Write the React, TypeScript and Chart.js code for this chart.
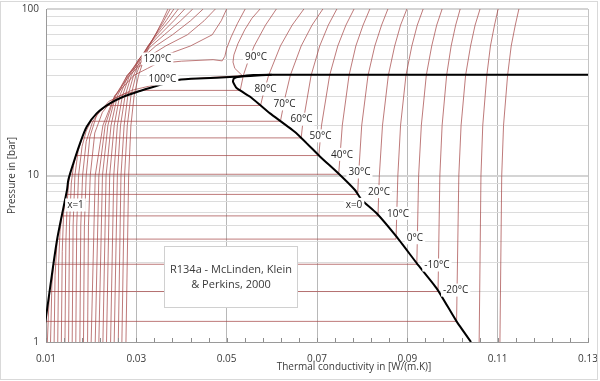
import React, { useEffect, useRef } from 'react';
import { Chart, registerables } from 'chart.js';

Chart.register(...registerables);

type Pt = [number, number];

// ---- saturation curves (thermal conductivity W/(m.K), pressure bar) ----
const satVapor: Pt[] = [
  [0.0097, 1.25], [0.0100, 1.41], [0.01244, 4.10], [0.01465, 8.18], [0.01494, 9.40], [0.01604, 11.8],
  [0.01753, 15.6], [0.01901, 19.6], [0.02122, 23.6], [0.02417, 27.1], [0.02711, 29.7], [0.03081, 32.2],
  [0.03369, 34.0], [0.0392, 37.5], [0.0450, 38.4], [0.0507, 39.0], [0.0552, 39.6], [0.0600, 40.3],
];
const satLiquid: Pt[] = [
  [0.1041, 1.0], [0.1009, 1.33], [0.0965, 2.10], [0.0921, 2.97], [0.0876, 4.29], [0.0832, 5.93],
  [0.0799, 7.13], [0.0784, 8.18], [0.0747, 10.31], [0.0707, 12.97], [0.0655, 17.9], [0.0596, 23.6],
  [0.0574, 26.5], [0.0552, 29.7], [0.0522, 33.5], [0.0514, 36.6], [0.0516, 38.3], [0.0530, 39.3],
  [0.0560, 40.1], [0.0600, 40.3],
];
const criticalLine: Pt[] = [[0.0600, 40.3], [0.1300, 40.3]];

// ---- isotherms ----
const isoM40: Pt[] = [[0.1105, 1], [0.1109, 10], [0.1113, 20], [0.1122, 40], [0.1130, 60], [0.1139, 80], [0.1147, 100]];
const isoM30: Pt[] = [[0.1059, 1], [0.1063, 10], [0.1067, 20], [0.1076, 40], [0.1084, 60], [0.1093, 80], [0.1101, 100]];
const isoM20: Pt[] = [[0.0097, 1], [0.0099, 1.33], [0.1009, 1.33], [0.1014, 10], [0.1019, 20], [0.1029, 40], [0.1040, 60], [0.1050, 80], [0.1061, 100]];
const isoM10: Pt[] = [[0.0103, 1], [0.0106, 1.6], [0.0108, 2.01], [0.0968, 2.01], [0.0972, 10], [0.0977, 20], [0.0987, 40], [0.0997, 60], [0.1007, 80], [0.1017, 100]];
const iso0: Pt[] = [[0.0110, 1], [0.0113, 2.2], [0.01167, 2.93], [0.0921, 2.93], [0.0925, 10], [0.0931, 20], [0.0942, 40], [0.0954, 60], [0.0965, 80], [0.0977, 100]];
const iso10: Pt[] = [[0.0118, 1], [0.0120, 2.5], [0.01248, 4.15], [0.0875, 4.15], [0.0879, 10], [0.0885, 20], [0.0897, 40], [0.0910, 60], [0.0922, 80], [0.0935, 100]];
const iso20: Pt[] = [[0.0126, 1], [0.0128, 3], [0.0131, 4.6], [0.01349, 5.72], [0.0835, 5.72], [0.0838, 10], [0.0845, 20], [0.0858, 40], [0.0872, 60], [0.0885, 80], [0.0899, 100]];
const iso30: Pt[] = [[0.0134, 1], [0.0136, 3.5], [0.0139, 6], [0.01445, 7.70], [0.0790, 7.70], [0.0792, 10], [0.0799, 20], [0.0813, 40], [0.0828, 60], [0.0843, 80], [0.0857, 100]];
const iso40: Pt[] = [[0.0142, 1], [0.0144, 4], [0.0147, 7], [0.0150, 9], [0.01533, 10.17], [0.0748, 10.17], [0.0756, 20], [0.0771, 40], [0.0786, 60], [0.0802, 80], [0.0817, 100]];
const iso50: Pt[] = [[0.0150, 1], [0.0152, 5], [0.0156, 9], [0.0161, 11.5], [0.01664, 13.18], [0.0704, 13.18], [0.0710, 20], [0.0728, 40], [0.0746, 60], [0.0764, 80], [0.0782, 100]];
const iso60: Pt[] = [[0.0158, 1], [0.0160, 5], [0.0164, 10], [0.0171, 14], [0.01802, 16.82], [0.0665, 16.82], [0.0668, 20], [0.0687, 40], [0.0706, 60], [0.0725, 80], [0.0744, 100]];
const iso70: Pt[] = [[0.0166, 1], [0.0168, 5], [0.0172, 10], [0.0180, 15], [0.0189, 18.5], [0.01994, 21.17], [0.0619, 21.17], [0.0630, 30], [0.0641, 40], [0.0665, 60], [0.0689, 80], [0.0713, 100]];
const iso80: Pt[] = [[0.0175, 1], [0.0177, 5], [0.0181, 10], [0.0189, 16], [0.0203, 21], [0.0220, 24.5], [0.02352, 26.33], [0.0575, 26.33], [0.0580, 30], [0.0593, 40], [0.0619, 60], [0.0645, 80], [0.0671, 100]];
const iso90: Pt[] = [[0.0183, 1], [0.0185, 5], [0.0189, 10], [0.0197, 17], [0.0212, 23], [0.0240, 28], [0.0275, 31], [0.0312, 32.44], [0.0530, 32.44], [0.0537, 40], [0.0549, 50], [0.0561, 60], [0.0586, 80], [0.0610, 100]];
const iso100: Pt[] = [[0.0192, 1], [0.0194, 5], [0.0198, 10], [0.0208, 18], [0.0225, 24], [0.0250, 29], [0.0290, 32.5], [0.0340, 35], [0.0400, 37.7], [0.0470, 38.9], [0.0535, 39.72], [0.0518, 44], [0.0514, 48], [0.0516, 53], [0.0525, 62], [0.0540, 75], [0.0556, 88], [0.0574, 100]];
const iso110: Pt[] = [[0.0200, 1], [0.0209, 10], [0.0226, 20], [0.0252, 30], [0.0295, 40], [0.0325, 44], [0.0345, 47], [0.0400, 48.6], [0.0470, 49.6], [0.0490, 48.8], [0.0496, 52], [0.0500, 58], [0.0510, 68], [0.0524, 82], [0.0541, 100]];
const iso120: Pt[] = [[0.0209, 1], [0.0217, 10], [0.0231, 20], [0.0252, 30], [0.0285, 40], [0.0305, 45], [0.0340, 50], [0.0420, 60], [0.0468, 70], [0.0488, 85], [0.0500, 100]];
const iso130: Pt[] = [[0.0217, 1], [0.0225, 10], [0.0237, 20], [0.0254, 30], [0.0280, 40], [0.0318, 50], [0.0365, 60], [0.0413, 70], [0.0450, 85], [0.0475, 100]];
const iso140: Pt[] = [[0.0226, 1], [0.0233, 10], [0.0244, 20], [0.0258, 30], [0.0280, 40], [0.0310, 50], [0.0343, 60], [0.0380, 70], [0.0420, 85], [0.0448, 100]];
const iso150: Pt[] = [[0.0234, 1], [0.0241, 10], [0.0251, 20], [0.0263, 30], [0.0282, 40], [0.0306, 50], [0.0333, 60], [0.0362, 70], [0.0398, 85], [0.0425, 100]];
const iso160: Pt[] = [[0.0243, 1], [0.0250, 10], [0.0258, 20], [0.0269, 30], [0.0285, 40], [0.0306, 50], [0.0328, 60], [0.0352, 70], [0.0383, 85], [0.0407, 100]];
const iso170: Pt[] = [[0.0251, 1], [0.0258, 10], [0.0265, 20], [0.0275, 30], [0.0289, 40], [0.0307, 50], [0.0326, 60], [0.0346, 70], [0.0373, 85], [0.0393, 100]];
const iso180: Pt[] = [[0.0260, 1], [0.0266, 10], [0.0273, 20], [0.0281, 30], [0.0294, 40], [0.0310, 50], [0.0326, 60], [0.0343, 70], [0.0366, 85], [0.0383, 100]];
const iso190: Pt[] = [[0.0268, 1], [0.0274, 10], [0.0280, 20], [0.0288, 30], [0.0299, 40], [0.0313, 50], [0.0327, 60], [0.0342, 70], [0.0361, 85], [0.0375, 100]];
const iso200: Pt[] = [[0.0277, 1], [0.0283, 10], [0.0288, 20], [0.0295, 30], [0.0305, 40], [0.0317, 50], [0.0329, 60], [0.0342, 70], [0.0358, 85], [0.0370, 100]];

const isotherms: Pt[][] = [
  isoM40, isoM30, isoM20, isoM10, iso0, iso10, iso20, iso30, iso40, iso50, iso60, iso70, iso80, iso90,
  iso100, iso110, iso120, iso130, iso140, iso150, iso160, iso170, iso180, iso190, iso200,
];

// ---- axes ----
const xTicks = [0.01, 0.03, 0.05, 0.07, 0.09, 0.11, 0.13];
const yTicks = [1, 2, 3, 4, 5, 6, 7, 8, 9, 10, 20, 30, 40, 50, 60, 70, 80, 90, 100];
const yLabelTicks = [1, 10, 100];

// ---- in-chart labels (anchored in data coordinates) ----
const labelTexts = ['120°C', '100°C', '90°C', '80°C', '70°C', '60°C', '50°C', '40°C', '30°C', '20°C', '10°C', '0°C', '-10°C', '-20°C', 'x=0', 'x=1'];
const labelK = [0.03468, 0.03579, 0.05649, 0.05860, 0.06280, 0.06656, 0.07077, 0.07553, 0.07940, 0.08372, 0.08793, 0.09169, 0.09656, 0.10070, 0.07819, 0.01653];
const labelP = [50.1, 38.0, 51.5, 33.1, 26.9, 21.8, 17.3, 13.4, 10.5, 8.0, 5.93, 4.23, 2.90, 2.05, 6.71, 6.65];

const noteLines = ['R134a - McLinden, Klein', '& Perkins, 2000'];
const noteBoxK = [0.03612, 0.06557];
const noteBoxP = [3.77, 1.62];

const FONT = '"Open Sans", "Noto Sans", sans-serif';
const TEXT = '#3a3a3a';
const RED = 'rgba(165, 70, 70, 0.72)';

const toXY = (a: Pt[]) => a.map(([x, y]) => ({ x, y }));

const decorPlugin = {
  id: 'decor',
  beforeDraw(chart: any) {
    const ctx = chart.ctx;
    ctx.save();
    ctx.fillStyle = '#ffffff';
    ctx.fillRect(0, 0, chart.width, chart.height);
    ctx.restore();
  },
  afterDatasetsDraw(chart: any) {
    const ctx = chart.ctx;
    const xs = chart.scales.x;
    const ys = chart.scales.y;
    const area = chart.chartArea;
    ctx.save();

    // right border of plot area
    ctx.strokeStyle = '#c4c4c4';
    ctx.lineWidth = 1;
    ctx.beginPath();
    ctx.moveTo(Math.round(area.right) + 0.5, area.top);
    ctx.lineTo(Math.round(area.right) + 0.5, area.bottom);
    ctx.stroke();

    // minor ticks on x axis
    ctx.strokeStyle = '#8c8c8c';
    for (let v = 0.01; v <= 0.1301; v += 0.004) {
      const px = Math.round(xs.getPixelForValue(v)) + 0.5;
      ctx.beginPath();
      ctx.moveTo(px, area.bottom);
      ctx.lineTo(px, area.bottom - 4);
      ctx.stroke();
    }

    // curve labels
    ctx.font = `10px ${FONT}`;
    ctx.textAlign = 'center';
    ctx.textBaseline = 'middle';
    labelTexts.forEach((t, i) => {
      const px = xs.getPixelForValue(labelK[i]);
      const py = ys.getPixelForValue(labelP[i]);
      const w = ctx.measureText(t).width;
      ctx.fillStyle = '#ffffff';
      ctx.fillRect(px - w / 2 - 2, py - 6.5, w + 4, 13);
      ctx.fillStyle = '#262626';
      ctx.fillText(t, px, py + 0.5);
    });

    // note box
    const bx0 = Math.round(xs.getPixelForValue(noteBoxK[0])) + 0.5;
    const bx1 = Math.round(xs.getPixelForValue(noteBoxK[1])) + 0.5;
    const by0 = Math.round(ys.getPixelForValue(noteBoxP[0])) + 0.5;
    const by1 = Math.round(ys.getPixelForValue(noteBoxP[1])) + 0.5;
    ctx.fillStyle = '#ffffff';
    ctx.fillRect(bx0, by0, bx1 - bx0, by1 - by0);
    ctx.strokeStyle = '#d0d0d0';
    ctx.strokeRect(bx0, by0, bx1 - bx0, by1 - by0);
    ctx.fillStyle = TEXT;
    ctx.font = `11px ${FONT}`;
    const cx = (bx0 + bx1) / 2;
    const cy = (by0 + by1) / 2;
    ctx.fillText(noteLines[0], cx, cy - 7);
    ctx.fillText(noteLines[1], cx, cy + 7.5);

    ctx.restore();
  },
  afterDraw(chart: any) {
    const ctx = chart.ctx;
    const area = chart.chartArea;
    ctx.save();
    // outer chart border
    ctx.strokeStyle = '#d9d9d9';
    ctx.lineWidth = 1;
    ctx.strokeRect(0.5, 1.5, chart.width - 3, chart.height - 3);

    // axis titles
    ctx.fillStyle = TEXT;
    ctx.font = `10px ${FONT}`;
    ctx.textAlign = 'center';
    ctx.textBaseline = 'middle';
    ctx.fillText('Thermal conductivity in [W/(m.K)]', 354, 367);
    ctx.translate(12, (area.top + area.bottom) / 2);
    ctx.rotate(-Math.PI / 2);
    ctx.fillText('Pressure in [bar]', 0, 0);
    ctx.restore();
  },
};

export default function App() {
  const ref = useRef<HTMLCanvasElement | null>(null);

  useEffect(() => {
    if (!ref.current) return;
    const black = (a: Pt[], tension: number) => ({
      data: toXY(a),
      borderColor: '#000000',
      borderWidth: 2,
      showLine: true,
      pointRadius: 0,
      tension,
      fill: false,
    });
    const datasets: any[] = [
      black(satVapor, 0.25),
      black(satLiquid, 0.15),
      black(criticalLine, 0),
      ...isotherms.map((a) => ({
        data: toXY(a),
        borderColor: RED,
        borderWidth: 1,
        showLine: true,
        pointRadius: 0,
        tension: 0,
        fill: false,
      })),
    ];

    const chart = new Chart(ref.current, {
      type: 'scatter',
      data: { datasets },
      plugins: [decorPlugin],
      options: {
        responsive: false,
        animation: false,
        devicePixelRatio: 1,
        layout: { padding: { left: 0, right: 12, top: 9, bottom: 0 } },
        plugins: { legend: { display: false }, tooltip: { enabled: false } },
        events: [],
        scales: {
          x: {
            type: 'linear',
            min: 0.01,
            max: 0.13,
            afterBuildTicks: (s: any) => {
              s.ticks = xTicks.map((v) => ({ value: v }));
            },
            afterFit: (s: any) => {
              s.height = 39;
              s.paddingLeft = 0;
              s.paddingRight = 0;
            },
            ticks: {
              autoSkip: false,
              maxRotation: 0,
              padding: 11,
              color: TEXT,
              font: { family: FONT, size: 10 },
              callback: (v: any) => Number(v).toFixed(2),
            },
            grid: { color: '#b8b8b8', lineWidth: 1, drawTicks: false },
            border: { color: '#9a9a9a' },
          },
          y: {
            type: 'logarithmic',
            min: 1,
            max: 100,
            afterBuildTicks: (s: any) => {
              s.ticks = yTicks.map((v) => ({ value: v }));
            },
            afterFit: (s: any) => {
              s.width = 46;
              s.paddingTop = 0;
              s.paddingBottom = 0;
            },
            ticks: {
              autoSkip: false,
              padding: 7,
              color: TEXT,
              font: { family: FONT, size: 10 },
              callback: (v: any) => (yLabelTicks.includes(Number(v)) ? String(v) : ''),
            },
            grid: {
              color: (c: any) => (c.tick && (c.tick.value === 10 || c.tick.value === 100) ? '#d4d4d4' : '#dcdcdc'),
              lineWidth: (c: any) => (c.tick && (c.tick.value === 10 || c.tick.value === 100) ? 2 : 1),
              drawTicks: false,
            },
            border: { color: '#9a9a9a' },
          },
        },
      } as any,
    });
    return () => chart.destroy();
  }, []);

  return (
    <div style={{ position: 'absolute', left: 0, top: 0, width: 600, height: 381, background: '#fff' }}>
      <canvas ref={ref} width={600} height={381} style={{ display: 'block', width: 600, height: 381 }} />
    </div>
  );
}
